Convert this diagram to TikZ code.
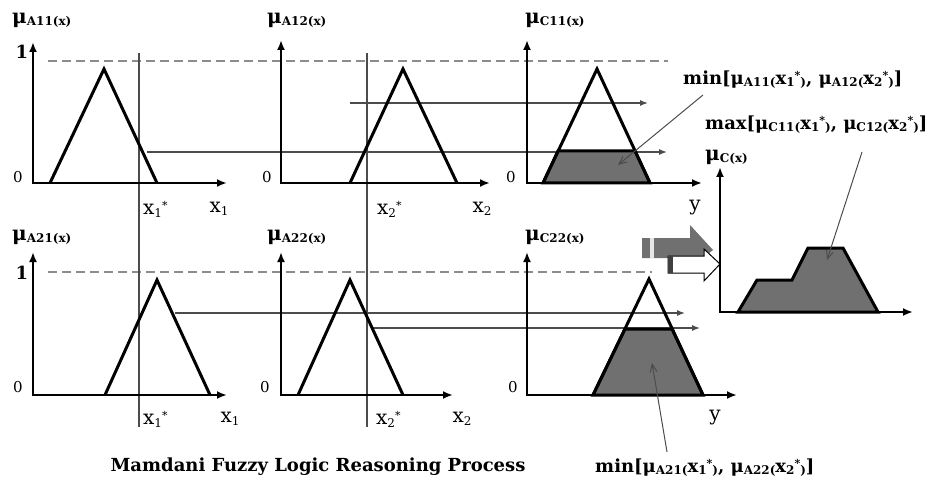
\documentclass[tikz,border=0pt]{standalone}
\usepackage{fontspec}
\setmainfont{DejaVu Serif}
\usetikzlibrary{arrows.meta}
\definecolor{fillgray}{gray}{0.44}
\definecolor{guidegray}{gray}{0.3}
\definecolor{dashgray}{gray}{0.55}
\newcommand{\mulab}[1]{{\fontsize{20}{20}\selectfont\bfseries μ}\raisebox{-2pt}{\fontsize{12}{12}\selectfont\bfseries #1}}
\newcommand{\smsub}[1]{\raisebox{-1.5pt}{\fontsize{12}{12}\selectfont #1}}
\newcommand{\smsup}[1]{\raisebox{5pt}{\fontsize{11}{11}\selectfont #1}}
\newcommand{\xs}[2]{{\fontsize{20}{20}\selectfont x}\raisebox{-3pt}{\fontsize{12}{12}\selectfont #1}#2}
\tikzset{
  axis/.style={line width=2.2pt, line join=miter, {Latex[length=10pt,width=8pt]}-{Latex[length=10pt,width=8pt]}},
  mf/.style={line width=3pt, line join=miter},
  guide/.style={draw=guidegray, line width=1.2pt},
  conn/.style={guide, -{Latex[length=8pt,width=6pt]}},
  note/.style={line width=1pt, draw=guidegray, -{Straight Barb[length=8pt,width=7pt]}},
  dashln/.style={draw=dashgray, line width=2pt, dash pattern=on 9pt off 5pt},
  lbl/.style={inner sep=0pt},
  zero/.style={lbl, font=\fontsize{15}{15}\selectfont},
  one/.style={lbl, font=\fontsize{18}{18}\selectfont\bfseries},
  minlbl/.style={lbl, anchor=west, font=\fontsize{18}{18}\selectfont\bfseries},
}
\begin{document}
\begin{tikzpicture}[x=1pt,y=-1pt]
\useasboundingbox (0,0) rectangle (941,486);
% dashed unit lines
\coordinate (d1a) at (48,61); \coordinate (d1b) at (668,61);
\coordinate (d2a) at (48,272); \coordinate (d2b) at (652,272);
\draw[dashln] (d1a) -- (d1b);
\draw[dashln] (d2a) -- (d2b);
% vertical x* lines
\coordinate (v1a) at (139,53); \coordinate (v1b) at (139,427);
\coordinate (v2a) at (367,53); \coordinate (v2b) at (367,427);
\draw[guide] (v1a) -- (v1b);
\draw[guide] (v2a) -- (v2b);
% horizontal projections
\coordinate (h1a) at (147,152); \coordinate (h1b) at (667,152);
\coordinate (h2a) at (350,103); \coordinate (h2b) at (648,103);
\coordinate (h3a) at (175,313); \coordinate (h3b) at (685,313);
\coordinate (h4a) at (373,328); \coordinate (h4b) at (700,328);
\draw[conn] (h1a) -- (h1b);
\draw[conn] (h2a) -- (h2b);
\draw[conn] (h3a) -- (h3b);
\draw[conn] (h4a) -- (h4b);
% shaded clipped consequents
\draw[mf, fill=fillgray] (543,183) -- (558,151) -- (635,151) -- (650,183) -- cycle;
\draw[mf, fill=fillgray] (593,395) -- (625,329) -- (672,329) -- (703,395) -- cycle;
% triangles
\draw[mf] (50,183) -- (104,69) -- (157,183);
\draw[mf] (350,183) -- (403,69) -- (457,183);
\draw[mf] (543,183) -- (597,69) -- (650,183);
\draw[mf] (105,395) -- (157,280) -- (210,395);
\draw[mf] (298,395) -- (350,280) -- (403,395);
\draw[mf] (593,395) -- (649,279) -- (703,395);
% axes
\draw[axis] (33,42) -- (33,183) -- (227,183);
\draw[axis] (281,40) -- (281,183) -- (490,183);
\draw[axis] (527,40) -- (527,183) -- (702,183);
\draw[axis] (33,252) -- (33,395) -- (227,395);
\draw[axis] (281,252) -- (281,395) -- (453,395);
\draw[axis] (527,252) -- (527,395) -- (737,395);
% block arrows
\fill[fillgray] (642,238) -- (690,238) -- (690,225) -- (713,250) -- (690,268) -- (690,258) -- (642,258) -- cycle;
\fill[white!80!gray] (650,238) rectangle (654,258);
\draw[line width=1pt, fill=white] (668,256) -- (704,256) -- (704,249) -- (720,264) -- (704,281) -- (704,273) -- (668,273) -- cycle;
\fill[black!75] (668,256) rectangle (673,273);
% output fuzzy set
\draw[mf, fill=fillgray] (738,312) -- (757,280) -- (792,280) -- (808,248) -- (843,248) -- (878,312) -- cycle;
\draw[axis] (720,167) -- (720,312) -- (913,312);
% axis labels
\node[lbl, anchor=west] (m1) at (12,20) {\mulab{A11(x)}};
\node[lbl, anchor=west] (m2) at (267,20) {\mulab{A12(x)}};
\node[lbl, anchor=west] (m3) at (525,20) {\mulab{C11(x)}};
\node[lbl, anchor=west] (m4) at (12,237) {\mulab{A21(x)}};
\node[lbl, anchor=west] (m5) at (267,237) {\mulab{A22(x)}};
\node[lbl, anchor=west] (m6) at (525,237) {\mulab{C22(x)}};
\node[lbl, anchor=west] (m7) at (705,157) {\mulab{C(x)}};
\node[zero] (z1) at (18,177) {0};
\node[zero] (z2) at (267,177) {0};
\node[zero] (z3) at (511,177) {0};
\node[zero] (z4) at (18,387) {0};
\node[zero] (z5) at (265,387) {0};
\node[zero] (z6) at (513,387) {0};
\node[one] (o1) at (22,52) {1};
\node[one] (o2) at (22,273) {1};
\node[lbl, anchor=west] (xs1) at (143,209) {\xs{1}{\smsup{*}}};
\node[lbl] (x1) at (219,209) {\xs{1}{}};
\node[lbl, anchor=west] (xs2) at (377,209) {\xs{2}{\smsup{*}}};
\node[lbl] (x2) at (482,209) {\xs{2}{}};
\node[lbl, anchor=west] (xs3) at (143,419) {\xs{1}{\smsup{*}}};
\node[lbl] (x3) at (230,419) {\xs{1}{}};
\node[lbl, anchor=west] (xs4) at (376,419) {\xs{2}{\smsup{*}}};
\node[lbl] (x4) at (462,419) {\xs{2}{}};
\node[lbl, font=\fontsize{20}{20}\selectfont] (y1) at (695,208) {y};
\node[lbl, font=\fontsize{20}{20}\selectfont] (y2) at (715,418) {y};
% annotations
\node[minlbl] (minA) at (683,80) {min[μ\smsub{A11(}x\smsub{1}\smsup{*}\smsub{)}, μ\smsub{A12(}x\smsub{2}\smsup{*}\smsub{)}]};
\node[minlbl] (maxC) at (705,125) {max[μ\smsub{C11(}x\smsub{1}\smsup{*}\smsub{)}, μ\smsub{C12(}x\smsub{2}\smsup{*}\smsub{)}]};
\node[minlbl] (minB) at (595,468) {min[μ\smsub{A21(}x\smsub{1}\smsup{*}\smsub{)}, μ\smsub{A22(}x\smsub{2}\smsup{*}\smsub{)}]};
\coordinate (a1s) at (703,95); \coordinate (a1e) at (618,165);
\coordinate (a2s) at (862,152); \coordinate (a2e) at (827,260);
\coordinate (a3s) at (667,452); \coordinate (a3e) at (652,363);
\draw[note] (a1s) -- (a1e);
\draw[note] (a2s) -- (a2e);
\draw[note] (a3s) -- (a3e);
\node[lbl, font=\fontsize{18}{18}\selectfont\bfseries] (title) at (318,467) {Mamdani Fuzzy Logic Reasoning Process};
\end{tikzpicture}
\end{document}
